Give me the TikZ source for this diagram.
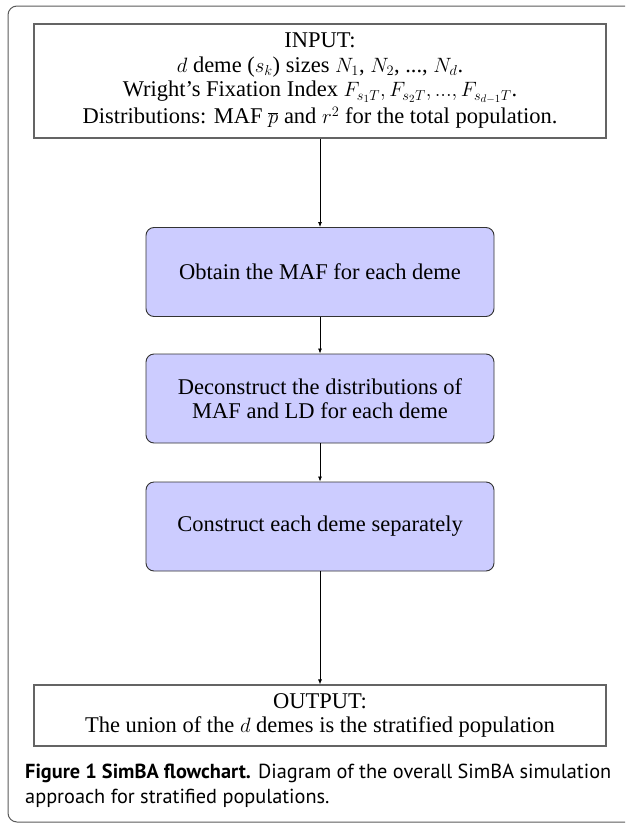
\documentclass[tikz,border=0pt]{standalone}
\usepackage{fontspec}
\setmainfont{Liberation Serif}
\newfontfamily\capfont{PT Sans}
\usetikzlibrary{arrows.meta}
\definecolor{boxblue}{RGB}{204,204,255}
\definecolor{framegray}{RGB}{90,90,90}
\definecolor{edgegray}{RGB}{100,100,100}
\tikzset{
  plainbox/.style={draw=edgegray, line width=1.2pt, rectangle, minimum width=572pt, inner sep=0pt, align=center, font=\fontsize{22.5}{24.5}\selectfont},
  stepbox/.style={draw=black!80, line width=0.9pt, fill=boxblue, rounded corners=8pt, minimum width=348pt, minimum height=89pt, inner sep=0pt, align=center, font=\fontsize{22.5}{24.5}\selectfont},
  flow/.style={-{Latex[length=5pt,width=4pt]}, line width=0.8pt, black},
  captext/.style={anchor=base west, inner sep=0pt, font=\capfont\fontsize{20.3}{25}\selectfont}
}
\begin{document}
\begin{tikzpicture}[x=1pt,y=-1pt]
\useasboundingbox (0,0) rectangle (625,825);
\begin{scope}
\clip (0,0) rectangle (625,825);
\draw[framegray, line width=1pt, rounded corners=9pt] (8,6) rectangle (660,822);
\end{scope}
\node[plainbox, minimum height=114pt] (in) at (320,81) {INPUT:\\
$d$ deme ($s_k$) sizes $N_1$, $N_2$, ..., $N_d$.\\
Wright's Fixation Index $F_{s_1T}, F_{s_2T}, ..., F_{s_{d-1}T}$.\\[2.5pt]
Distributions: MAF $\overline{p}$ and $r^2$ for the total population.};
\node[stepbox] (b1) at (320,272) {Obtain the MAF for each deme};
\node[stepbox] (b2) at (320,398.5) {Deconstruct the distributions of\\MAF and LD for each deme};
\node[stepbox] (b3) at (320,526.5) {Construct each deme separately};
\node[plainbox, minimum height=61pt] (out) at (320,715.5) {OUTPUT:\\The union of the $d$ demes is the stratified population};
\draw[flow] (in) -- (b1);
\draw[flow] (b1) -- (b2);
\draw[flow] (b2) -- (b3);
\draw[flow] (b3) -- (out);
\node[captext] (cap1) at (25,778) {\textbf{Figure 1 SimBA flowchart.} Diagram of the overall SimBA simulation};
\node[captext] (cap2) at (25,803) {approach for stratified populations.};
\end{tikzpicture}
\end{document}
